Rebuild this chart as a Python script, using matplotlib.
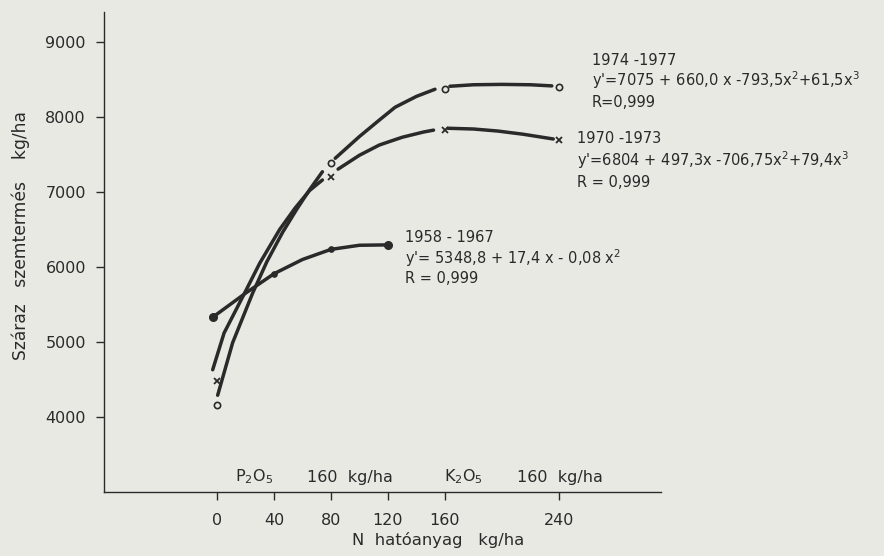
import numpy as np
import matplotlib
matplotlib.use("Agg")
import matplotlib.pyplot as plt

# ── fitted curves (N kg/ha → yield kg/ha); NaN breaks the line around markers ──
n_7477 = [0.5, 11, 25, 35, 46, 56, 65, 74, np.nan,
          83, 100, 114, 125, 140, 153, np.nan,
          163.5, 180, 200, 220, 235]
y_7477 = [4290, 4990, 5650, 6070, 6460, 6770, 7030, 7270, np.nan,
          7450, 7740, 7960, 8130, 8275, 8370, np.nan,
          8410, 8430, 8435, 8430, 8415]

n_7073 = [-3, 5, 18, 30, 44, 55, 65, 74, np.nan,
          85, 100, 114, 130, 145, 152, np.nan,
          162, 180, 197, 215, 236]
y_7073 = [4630, 5120, 5600, 6050, 6500, 6790, 7020, 7160, np.nan,
          7305, 7490, 7627, 7730, 7800, 7825, np.nan,
          7850, 7840, 7813, 7770, 7707]

n_5867 = [-3, 20, 40, 60, 80, 100, 120]
y_5867 = [5330, 5650, 5910, 6100, 6235, 6290, 6295]

# ── measured points ──
pts_n = [0, 80, 160, 240]
pts_7477 = [4160, 7390, 8375, 8400]
pts_7073 = [4480, 7200, 7830, 7700]
dots_end_n = [-3, 120]
dots_end_y = [5330, 6295]
dots_mid_n = [40, 80]
dots_mid_y = [5910, 6235]

xticks = [0, 40, 80, 120, 160, 240]
yticks = [4000, 5000, 6000, 7000, 8000, 9000]

INK = "#2a2a2a"
PAPER = "#e9e9e4"

plt.rcParams["font.family"] = ["DejaVu Sans"]
plt.rcParams["mathtext.fontset"] = "dejavusans"
fig = plt.figure(figsize=(8.84, 5.56), dpi=100, facecolor=PAPER)
ax = fig.add_axes([0.1176, 0.1151, 0.6301, 0.8633], facecolor=PAPER)

lw = 2.5
ax.plot(n_7477, y_7477, color=INK, lw=lw, solid_capstyle="round")
ax.plot(n_7073, y_7073, color=INK, lw=lw, solid_capstyle="round")
ax.plot(n_5867, y_5867, color=INK, lw=lw, solid_capstyle="round")

ax.plot(pts_n, pts_7477, ls="none", marker="o", ms=4.5, mfc="none",
        mec=INK, mew=1.2)
ax.plot(pts_n, pts_7073, ls="none", marker="x", ms=5, mec=INK, mew=1.3)
ax.plot(dots_end_n, dots_end_y, ls="none", marker="o", ms=5.5, color=INK)
ax.plot(dots_mid_n, dots_mid_y, ls="none", marker="o", ms=3.8, color=INK)

ax.set_xlim(-79.3, 311.6)
ax.set_ylim(3000, 9400)
ax.set_xticks(xticks)
ax.set_yticks(yticks)
ax.tick_params(direction="out", length=6, width=1.0, color=INK,
               labelcolor=INK, labelsize=11.5)
ax.tick_params(axis="x", pad=9)
ax.tick_params(axis="y", pad=7)
for s in ["top", "right"]:
    ax.spines[s].set_visible(False)
for s in ["left", "bottom"]:
    ax.spines[s].set_color(INK)
    ax.spines[s].set_linewidth(1.0)

ax.set_ylabel("Száraz   szemtermés    kg/ha", fontsize=12.3, color=INK)
ax.yaxis.set_label_coords(-0.132, 0.535)
ax.set_xlabel("N  hatóanyag   kg/ha", fontsize=11.8, color=INK)
ax.xaxis.set_label_coords(0.6, -0.083)

# ── curve labels ──
fs = 10.5
blocks = [
    (263, [8760, 8493, 8187],
     ["1974 -1977", "y'=7075 + 660,0 x -793,5x$^2$+61,5x$^3$", "R=0,999"]),
    (252.6, [7720, 7427, 7133],
     ["1970 -1973", "y'=6804 + 497,3x -706,75x$^2$+79,4x$^3$", "R = 0,999"]),
    (132, [6387, 6120, 5853],
     ["1958 - 1967", "y'= 5348,8 + 17,4 x - 0,08 x$^2$", "R = 0,999"]),
]
for x0, ys, lines in blocks:
    for yy, txt in zip(ys, lines):
        ax.text(x0, yy, txt, fontsize=fs, color=INK, va="center",
                ha="left", clip_on=False)

# fertiliser background levels
ax.text(12.6, 3200, "P$_2$O$_5$", fontsize=11.5, color=INK, va="center")
ax.text(63, 3200, "160  kg/ha", fontsize=11.5, color=INK, va="center")
ax.text(159, 3200, "K$_2$O$_5$", fontsize=11.5, color=INK, va="center")
ax.text(210.5, 3200, "160  kg/ha", fontsize=11.5, color=INK, va="center")

fig.savefig("out.png", dpi=100, facecolor=PAPER)
